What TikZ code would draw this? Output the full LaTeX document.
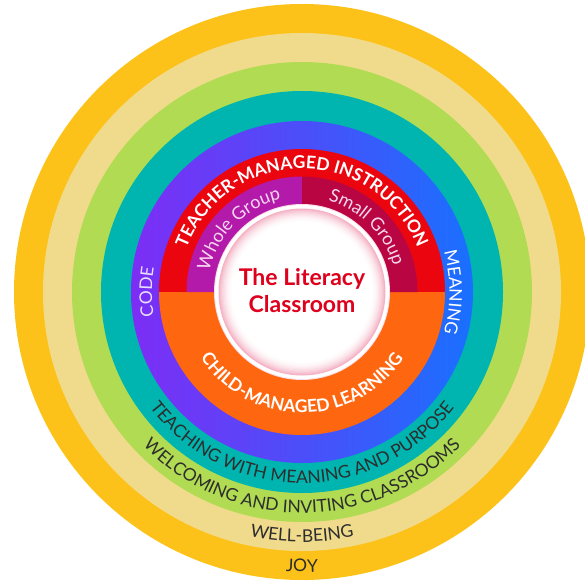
\documentclass[tikz,border=0pt]{standalone}
\usepackage{fontspec}
\setmainfont{Lato}
\usetikzlibrary{decorations.text}
\definecolor{cJoy}{RGB}{253,194,26}
\definecolor{cWell}{RGB}{240,219,140}
\definecolor{cWelc}{RGB}{176,219,82}
\definecolor{cTeal}{RGB}{0,181,176}
\definecolor{cPurp}{RGB}{125,45,245}
\definecolor{cBlue}{RGB}{25,112,255}
\definecolor{cRed}{RGB}{235,5,15}
\definecolor{cOrange}{RGB}{255,102,16}
\definecolor{cWhole}{RGB}{180,26,170}
\definecolor{cSmall}{RGB}{185,6,66}
\definecolor{cText}{RGB}{45,45,45}
\definecolor{cTitle}{RGB}{222,0,28}
\definecolor{cPink}{RGB}{244,178,196}
\definecolor{cLav}{RGB}{232,222,255}
\definecolor{cSoft}{RGB}{245,215,240}
\begin{document}
\begin{tikzpicture}[x=1pt,y=1pt,
  arctext/.style={decorate, decoration={text along path, text align=center}},
  outerlbl/.style={arctext, decoration={text color=cText}},
  boldlbl/.style={arctext, decoration={text color=white}},
  lightlbl/.style={arctext, decoration={text color=#1}},
  ring/.style={fill=#1, draw=none}]
\clip (-302,-287) rectangle (283,292);
% rings
\fill[ring=cJoy] (0,0) circle (288);
\fill[ring=cWell] (0,0) circle (259);
\fill[ring=cWelc] (0,0) circle (230);
\fill[ring=cTeal] (0,0) circle (201);
\shade[left color=cPurp, right color=cBlue] (0,0) circle (171);
\fill[ring=cRed] (143,0) arc[start angle=0, end angle=180, radius=143] -- cycle;
\fill[ring=cOrange] (-143,0) arc[start angle=180, end angle=360, radius=143] -- cycle;
\fill[ring=cWhole] (0,0) -- (-115.5,0) arc[start angle=180, end angle=90, radius=115.5] -- cycle;
\fill[ring=cSmall] (0,0) -- (0,115.5) arc[start angle=90, end angle=0, radius=115.5] -- cycle;
% centre
\fill[cPink!45!white] (0,0) circle (88);
\fill[white] (0,0) circle (87);
\foreach \k in {0,...,12}{
  \pgfmathsetmacro\rr{83.5-1.2*\k}
  \pgfmathtruncatemacro\pp{100*(1-\k/12)^2}
  \fill[cPink!\pp!white] (0,0) circle (\rr);
}
\node[font=\fontsize{23}{27}\selectfont\bfseries, text=cTitle, align=center] (title) at (0,1.5) {The Literacy\\Classroom};
% outer labels
\path[outerlbl, decoration={text={|\fontsize{17.5}{18}\selectfont|JOY}}]
  (180:280) arc[start angle=180, end angle=360, radius=280];
\path[outerlbl, decoration={text={|\fontsize{17.5}{18}\selectfont|WELL-BEING}}]
  (180:250) arc[start angle=180, end angle=360, radius=250];
\path[outerlbl, decoration={text={|\fontsize{17.5}{18}\selectfont|WELCOMING AND INVITING CLASSROOMS}}]
  (180:221) arc[start angle=180, end angle=360, radius=221];
\path[outerlbl, decoration={text={|\fontsize{17.5}{18}\selectfont|TEACHING WITH MEANING AND PURPOSE}}]
  (180:191) arc[start angle=180, end angle=360, radius=191];
% code / meaning
\path[lightlbl=cLav, decoration={text={|\fontsize{17.5}{18}\selectfont|CODE}}]
  (270:150) arc[start angle=270, end angle=90, radius=150];
\path[lightlbl=white, decoration={text={|\fontsize{17.5}{18}\selectfont|MEANING}}]
  (90:147.5) arc[start angle=90, end angle=-90, radius=147.5];
% teacher / child
\path[boldlbl, decoration={text={|\fontsize{17.5}{18}\selectfont\bfseries|TEACHER-MANAGED INSTRUCTION}}]
  (180:123.5) arc[start angle=180, end angle=0, radius=123.5];
\path[boldlbl, decoration={text={|\fontsize{17.5}{18}\selectfont\bfseries|CHILD-MANAGED LEARNING}}]
  (180:121) arc[start angle=180, end angle=360, radius=121];
% groups
\path[lightlbl=cSoft, decoration={text={|\fontsize{18}{18}\selectfont|Whole Group}}]
  (180:95) arc[start angle=180, end angle=90, radius=95];
\path[lightlbl=cSoft, decoration={text={|\fontsize{18}{18}\selectfont|Small Group}}]
  (90:95) arc[start angle=90, end angle=0, radius=95];
\end{tikzpicture}
\end{document}
